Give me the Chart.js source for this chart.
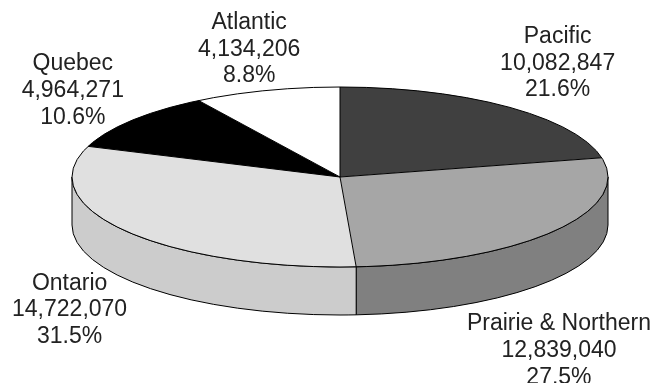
<!DOCTYPE html>
<html>
<head>
<meta charset="utf-8">
<script src="https://cdn.jsdelivr.net/npm/chart.js@4.4.0/dist/chart.umd.min.js"></script>
<style>
  html, body { margin: 0; padding: 0; background: #fff; }
  #wrap { width: 661px; height: 383px; }
</style>
</head>
<body>
<div id="wrap"><canvas id="regionChart" width="661" height="383"></canvas></div>
<script>
// Population by region
const regions = ['Pacific', 'Prairie & Northern', 'Ontario', 'Quebec', 'Atlantic'];
const population = [10082847, 12839040, 14722070, 4964271, 4134206];

// Greyscale fills: top face and the darker shade used for the rim
const topColors = ['#404040', '#a6a6a6', '#e0e0e0', '#000000', '#ffffff'];
const sideColors = ['#262626', '#808080', '#cccccc', '#000000', '#d9d9d9'];

// Small hand tweaks so labels sit where the original put them
const labelNudge = [[6, -3], [-4, 40], [0, 0], [-10, 3], [0, 9]];

const DEPTH = 48;      // thickness of the tilted pie
const LINE = 26.7;     // label line height
const GAP = 12;        // distance between rim and label box
const LABEL_FONT = '23px "Liberation Sans", Arial, sans-serif';

// Ellipse of the top face, fitted into the chart area (minus the rim depth)
function ellipseGeom(chart) {
  const a = chart.chartArea;
  const rx = (a.right - a.left) / 2;
  const ry = (a.bottom - a.top - DEPTH) / 2;
  return { cx: (a.left + a.right) / 2, cy: a.top + ry, rx: rx, ry: ry };
}

const pie3d = {
  id: 'pie3d',
  beforeDatasetsDraw(chart) {
    const ctx = chart.ctx;
    const g = ellipseGeom(chart);
    const arcs = chart.getDatasetMeta(0).data;

    // Rim: only the front half (canvas angles 0..PI) is visible
    ctx.save();
    ctx.lineWidth = 1;
    ctx.strokeStyle = '#000';
    arcs.forEach((arc, i) => {
      const s = Math.max(arc.startAngle, 0);
      const e = Math.min(arc.endAngle, Math.PI);
      if (e <= s) return;
      ctx.beginPath();
      ctx.ellipse(g.cx, g.cy, g.rx, g.ry, 0, s, e, false);
      ctx.lineTo(g.cx + g.rx * Math.cos(e), g.cy + DEPTH + g.ry * Math.sin(e));
      ctx.ellipse(g.cx, g.cy + DEPTH, g.rx, g.ry, 0, e, s, true);
      ctx.closePath();
      ctx.fillStyle = sideColors[i];
      ctx.fill();
      ctx.stroke();
    });
    ctx.restore();

    // Squash the library's round pie into the top ellipse
    const m = arcs[0];
    ctx.save();
    ctx.translate(g.cx, g.cy);
    ctx.scale(g.rx / m.outerRadius, g.ry / m.outerRadius);
    ctx.translate(-m.x, -m.y);
  },
  afterDatasetsDraw(chart) {
    const ctx = chart.ctx;
    ctx.restore();

    const g = ellipseGeom(chart);
    const arcs = chart.getDatasetMeta(0).data;
    const values = chart.data.datasets[0].data;
    const total = values.reduce((a, b) => a + b, 0);

    // Outline of the top face and slice edges
    ctx.save();
    ctx.lineWidth = 1;
    ctx.strokeStyle = '#000';
    ctx.beginPath();
    ctx.ellipse(g.cx, g.cy, g.rx, g.ry, 0, 0, Math.PI * 2);
    ctx.stroke();
    arcs.forEach(arc => {
      ctx.beginPath();
      ctx.moveTo(g.cx, g.cy);
      ctx.lineTo(g.cx + g.rx * Math.cos(arc.startAngle), g.cy + g.ry * Math.sin(arc.startAngle));
      ctx.stroke();
    });

    // Labels: name, value, share
    ctx.font = LABEL_FONT;
    ctx.fillStyle = '#222';
    ctx.textAlign = 'center';
    ctx.textBaseline = 'middle';
    arcs.forEach((arc, i) => {
      const mid = (arc.startAngle + arc.endAngle) / 2;
      const lines = [
        chart.data.labels[i],
        values[i].toLocaleString('en-US'),
        (values[i] / total * 100).toFixed(1) + '%'
      ];
      const w = Math.max(...lines.map(t => ctx.measureText(t).width));
      const h = lines.length * LINE;
      const ex = g.cx + g.rx * Math.cos(mid);
      const ey = g.cy + g.ry * Math.sin(mid) + (Math.sin(mid) > 0 ? DEPTH : 0);
      let bx = ex + Math.cos(mid) * (w / 2 + GAP);
      let by = ey + Math.sin(mid) * (h / 2 + GAP);
      bx = Math.min(Math.max(bx, w / 2 + 6), chart.width - w / 2 - 6);
      bx += labelNudge[i][0];
      by += labelNudge[i][1];
      lines.forEach((t, k) => {
        ctx.fillText(t, bx, by + (k - (lines.length - 1) / 2) * LINE);
      });
    });
    ctx.restore();
  }
};

new Chart(document.getElementById('regionChart'), {
  type: 'pie',
  data: {
    labels: regions,
    datasets: [{
      data: population,
      backgroundColor: topColors,
      borderWidth: 0
    }]
  },
  options: {
    responsive: false,
    animation: false,
    events: [],
    layout: {
      padding: { left: 72, right: 53, top: 87, bottom: 68 }
    },
    plugins: {
      legend: { display: false },
      tooltip: { enabled: false }
    }
  },
  plugins: [pie3d]
});
</script>
</body>
</html>
